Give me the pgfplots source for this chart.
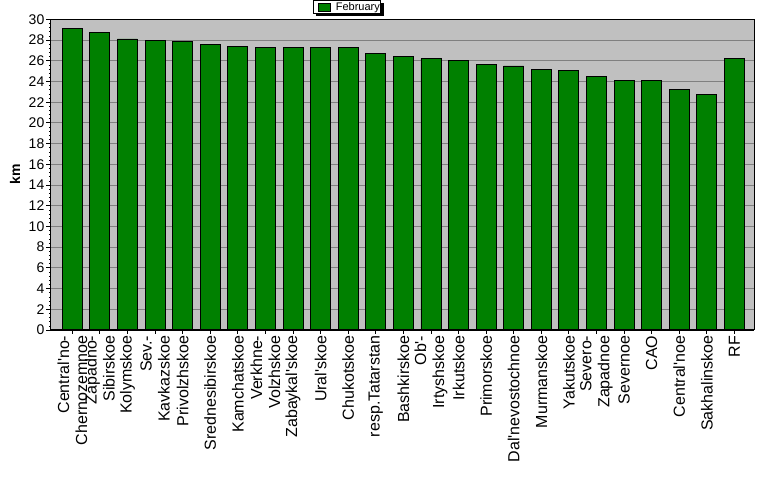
\documentclass[border=0pt]{standalone}
\usepackage{fontspec}
\setmainfont{Liberation Sans}
\usepackage{pgfplots}
\pgfplotsset{compat=1.18}
\definecolor{barg}{HTML}{008000}
\definecolor{bgs}{HTML}{C0C0C0}
\definecolor{gridc}{HTML}{808080}
\newcommand{\ap}{\textquotesingle}
\begin{document}
\begin{tikzpicture}[x=1pt,y=1pt]
\path[use as bounding box] (0,0) rectangle (777,479);
\begin{axis}[
  at={(50.5pt,149pt)}, anchor=south west,
  scale only axis, width=703.5pt, height=310.7pt,
  xmin=-0.79, xmax=24.71, ymin=0, ymax=30,
  axis background/.style={fill=bgs},
  ymajorgrids, major grid style={gridc, line width=1pt},
  ytick={0,2,...,30}, minor y tick num=4,
  xtick={0,...,24},
  xticklabels={{Central\ap no-\\Chernozemnoe},{Zapadno-\\Sibirskoe},Kolymskoe,{Sev.-\\Kavkazskoe},Privolzhskoe,Srednesibirskoe,Kamchatskoe,{Verkhne-\\Volzhskoe},Zabaykal\ap skoe,Ural\ap skoe,Chukotskoe,resp.Tatarstan,Bashkirskoe,{Ob\ap-\\Irtyshskoe},Irkutskoe,Primorskoe,Dal\ap nevostochnoe,Murmanskoe,Yakutskoe,{Severo-\\Zapadnoe},Severnoe,CAO,Central\ap noe,Sakhalinskoe,RF},
  tick align=outside, major tick length=4pt, minor tick length=1.5pt,
  xtick pos=left, ytick pos=left,
  major tick style={black, line width=0.8pt},
  minor tick style={black, line width=0.6pt},
  /pgf/number format/assume math mode=true,
  yticklabel style={font=\fontsize{14}{15}\selectfont, inner sep=2pt},
  xticklabel style={rotate=90, anchor=east, align=right, font=\fontsize{16}{18}\selectfont, inner sep=1.5pt},
  axis line style={line width=1pt},
  ylabel={\textbf{km}},
  ylabel style={at={(axis description cs:-0.0505,0.5)}, anchor=center, font=\fontsize{14}{15}\selectfont},
  ybar, bar width=20pt,
  legend style={name=leg, at={(0.422,1)}, anchor=south, yshift=5.5pt, font=\fontsize{11}{12}\selectfont, draw=black, line width=1pt, inner xsep=0pt, inner ysep=0.5pt, nodes={inner xsep=1pt, inner ysep=1pt}},
  legend image code/.code={\path[draw=none, fill=none] (-5pt,0pt) -- (16pt,0pt); \draw[fill=barg, draw=black, line width=0.8pt] (0pt,-4pt) rectangle (12pt,4pt);},
  after end axis/.code={\draw[line width=2pt, black] (rel axis cs:0,0) -- (rel axis cs:1,0);},
]
\addplot[fill=barg, draw=black, line width=0.8pt] coordinates {
(0,29.1) (1,28.7) (2,28.1) (3,27.95) (4,27.85) (5,27.6) (6,27.35) (7,27.3) (8,27.3) (9,27.3) (10,27.3) (11,26.7) (12,26.4) (13,26.2) (14,26.0) (15,25.6) (16,25.5) (17,25.2) (18,25.1) (19,24.5) (20,24.1) (21,24.1) (22,23.2) (23,22.75) (24,26.2)
};
\legend{February}
\end{axis}
\fill[black] ([yshift=-2.5pt]leg.north east) rectangle ([xshift=2.5pt,yshift=-2.5pt]leg.south east);
\fill[black] ([xshift=2.5pt]leg.south west) rectangle ([xshift=2.5pt,yshift=-2.5pt]leg.south east);
\end{tikzpicture}
\end{document}
